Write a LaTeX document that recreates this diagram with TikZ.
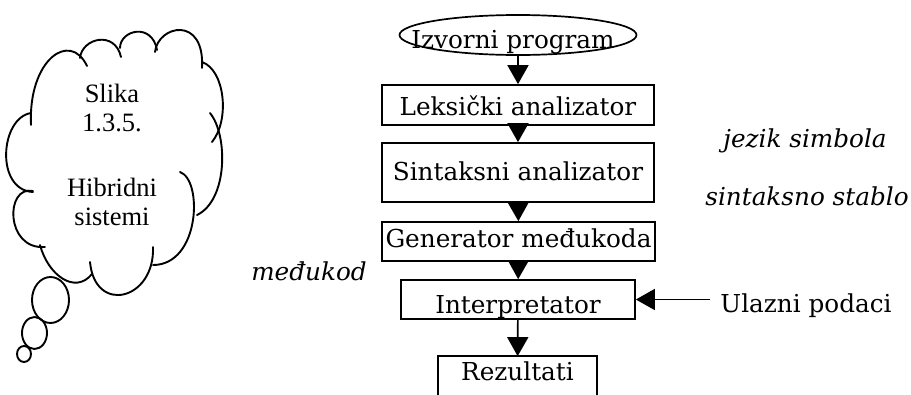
\documentclass[tikz,border=0pt]{standalone}
\usepackage{fontspec}
\usetikzlibrary{arrows.meta,shapes.geometric}
\newfontfamily\flowfont{DejaVu Serif}
\newfontfamily\cloudfont{Liberation Serif}
\newcommand\flowsize{\fontsize{24.7}{30}\selectfont}
\begin{document}
\begin{tikzpicture}[x=1pt,y=-1pt,
  box/.style={draw, rectangle, line width=1.7pt, inner sep=0pt, font=\flowfont\flowsize},
  flow/.style={line width=1.7pt, -{Triangle[width=21pt,length=19pt]}},
  note/.style={font=\flowfont\itshape\flowsize, anchor=base, inner sep=0pt},
  bump/.style={line width=1.9pt, line cap=round},
  bubble/.style={line width=1.9pt}]
\useasboundingbox (0,0) rectangle (911,394);

% ---- thought cloud ----
\draw[bump] (31,125) .. controls (28,60) and (70,30) .. (87,66);
\draw[bump] (80,58) .. controls (82,38) and (115,30) .. (121,57);
\draw[bump] (120,48) .. controls (120,30) and (152,22) .. (157,50);
\draw[bump] (155,52) .. controls (158,25) and (205,15) .. (202,68);
\draw[bump] (202,62) .. controls (225,70) and (230,120) .. (212,142);
\draw[bump] (210,113) .. controls (228,135) and (228,200) .. (197,215);
\draw[bump] (180,172) .. controls (203,180) and (200,265) .. (153,265);
\draw[bump] (153,247) .. controls (155,300) and (95,315) .. (90,262);
\draw[bump] (40,245) .. controls (48,275) and (75,295) .. (92,274);
\draw[bump] (33,191) .. controls (5,185) and (5,250) .. (45,247);
\draw[bump] (31,113) .. controls (0,118) and (-5,190) .. (33,192);
\draw[bubble] (50.5,300) ellipse [x radius=18.5pt, y radius=23pt];
\draw[bubble] (34.5,333) ellipse [x radius=12.5pt, y radius=16pt];
\draw[bubble] (24,354) ellipse [x radius=7pt, y radius=8pt];
% the base anchor of this multi-line node sits on its last line
\node[font=\cloudfont\fontsize{26.5}{29}\selectfont, align=center, anchor=base, inner sep=0pt]
  (cap) at (112,225) {Slika\\1.3.5.\\[36pt]Hibridni\\sistemi};

% ---- compiler / interpreter chain ----
\node[draw, ellipse, line width=1.7pt, minimum width=237pt, minimum height=40pt, inner sep=0pt]
  (src) at (518,35)
  {\raisebox{-13pt}[0pt][0pt]{\makebox[0pt]{\kern-10pt\flowfont\flowsize Izvorni program}}};
\node[box, minimum width=272pt, minimum height=40pt, text height=24pt, text depth=4pt]
  (lex) at (518,105) {Leksički analizator};
\node[box, minimum width=272pt, minimum height=59pt, text height=22pt, text depth=7pt]
  (syn) at (518,172.5) {Sintaksni analizator};
\node[box, minimum width=273pt, minimum height=39pt, text height=20pt, text depth=9pt]
  (gen) at (518.5,241.5) {Generator međukoda};
\node[box, minimum width=234pt, minimum height=39pt, text height=30pt, text depth=3pt]
  (int) at (518,299.5) {Interpretator};
\node[box, draw=none, minimum width=157pt, minimum height=37pt, text height=18pt, text depth=9pt]
  (res) at (517.5,375.5) {Rezultati};
\draw[line width=1.7pt] (res.south west) -- (res.north west) -- (res.north east) -- (res.south east);

\node[font=\flowfont\flowsize, anchor=base, inner ysep=0pt, inner xsep=10pt]
  (in) at (806,312) {Ulazni podaci};

\draw[flow] (src) -- (lex);
\draw[flow] (lex) -- (syn);
\draw[flow] (syn) -- (gen);
\draw[flow] (gen) -- (int);
\draw[flow] (int) -- (res);
\draw[flow] (in.west |- int.east) -- (int.east);

% ---- intermediate forms ----
\node[note] (sym) at (805,147) {jezik simbola};
\node[note] (tree) at (807,205) {sintaksno stablo};
\node[note] (mid) at (309,280) {međukod};
\end{tikzpicture}
\end{document}
